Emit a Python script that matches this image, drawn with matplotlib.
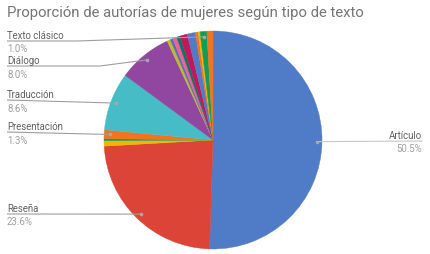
import numpy as np
import matplotlib
matplotlib.use("Agg")
import matplotlib.pyplot as plt

plt.rcParams['font.family'] = ['Roboto', 'DejaVu Sans']

# datos (porcentajes, en el orden de las porciones, sentido horario desde arriba)
categorias = ["Artículo", "Reseña", "Otro A", "Otro B", "Presentación",
              "Traducción", "Diálogo", "Otro C", "Otro D", "Otro E", "Otro F",
              "Otro G", "Otro H", "Otro I", "Otro J", "Texto clásico", "Otro K"]
valores = [50.5, 23.6, 0.8, 0.3, 1.3, 8.6, 8.0, 0.5, 0.4, 0.6, 0.5,
           1.1, 1.2, 0.4, 0.3, 1.0, 0.9]
colores = ["#4f7bc7", "#db4437", "#f4b400", "#0f9d58", "#f4731f", "#46bdc6",
           "#91469f", "#bcbc2e", "#5c6bc0", "#f06292", "#00796b", "#c2185b",
           "#4f7bc7", "#f4731f", "#f4b400", "#0f9d58", "#f4731f"]
etiquetadas = ["Artículo", "Reseña", "Presentación", "Traducción", "Diálogo",
               "Texto clásico"]
titulo = "Proporción de autorías de mujeres según tipo de texto"

W, H = 430, 255
fig = plt.figure(figsize=(W / 100, H / 100), dpi=100)
ax = fig.add_axes([0, 0, 1, 1])
ax.set_xlim(0, W)
ax.set_ylim(0, H)
ax.set_aspect('equal')
ax.axis('off')

cx, cy, r = 213, H - 141, 109
wedges, _ = ax.pie(valores, colors=colores, startangle=90, counterclock=False,
                   center=(cx, cy), radius=r, normalize=True,
                   wedgeprops=dict(linewidth=0.3))
for w, c in zip(wedges, colores):
    w.set_edgecolor(c)
ax.set_xlim(0, W)
ax.set_ylim(0, H)

# posicion de las etiquetas: (y de la linea en px, x del codo, lado)
pos = {
    "Artículo": (142, None, "der"),
    "Reseña": (215, None, "izq"),
    "Presentación": (133, None, "izq"),
    "Traducción": (101, None, "izq"),
    "Diálogo": (67, 100, "izq"),
    "Texto clásico": (42, 77, "izq"),
}

fs = 6.9
total = sum(valores)
acum = 0
for nombre, v in zip(categorias, valores):
    mid = (acum + v / 2) / total * 2 * np.pi
    acum += v
    if nombre not in etiquetadas:
        continue
    dx = cx + 0.95 * r * np.sin(mid)
    dy = cy + 0.95 * r * np.cos(mid)
    ly, codo, lado = pos[nombre]
    ly = H - ly
    pct = f"{v / total * 100:.1f}%"
    if lado == "izq":
        x0 = 7
        if codo is None:
            xs, ys = [x0, dx], [ly, dy]
        else:
            xs, ys = [x0, codo, dx], [ly, ly, dy]
        ax.plot(xs, ys, color="#9e9e9e", lw=0.8, solid_capstyle='butt')
        ax.text(x0, ly + 3, nombre, ha='left', va='baseline',
                fontsize=fs, color="#616161")
        ax.text(x0, ly - 2.5, pct, ha='left', va='top',
                fontsize=fs, color="#a0a0a0")
    else:
        x1 = 422
        ax.plot([dx, x1], [dy, ly], color="#c8c8c8", lw=0.8)
        ax.text(x1, ly + 3, nombre, ha='right', va='baseline',
                fontsize=fs, color="#616161")
        ax.text(x1, ly - 2.5, pct, ha='right', va='top',
                fontsize=fs, color="#a0a0a0")
    ax.plot(dx, dy, 'o', ms=2.6, color="#a8a8a8", mew=0)

ax.text(7, H - 16.5, titulo, ha='left', va='baseline', fontsize=10.7,
        color="#757575")

fig.savefig("out.png", dpi=100)
